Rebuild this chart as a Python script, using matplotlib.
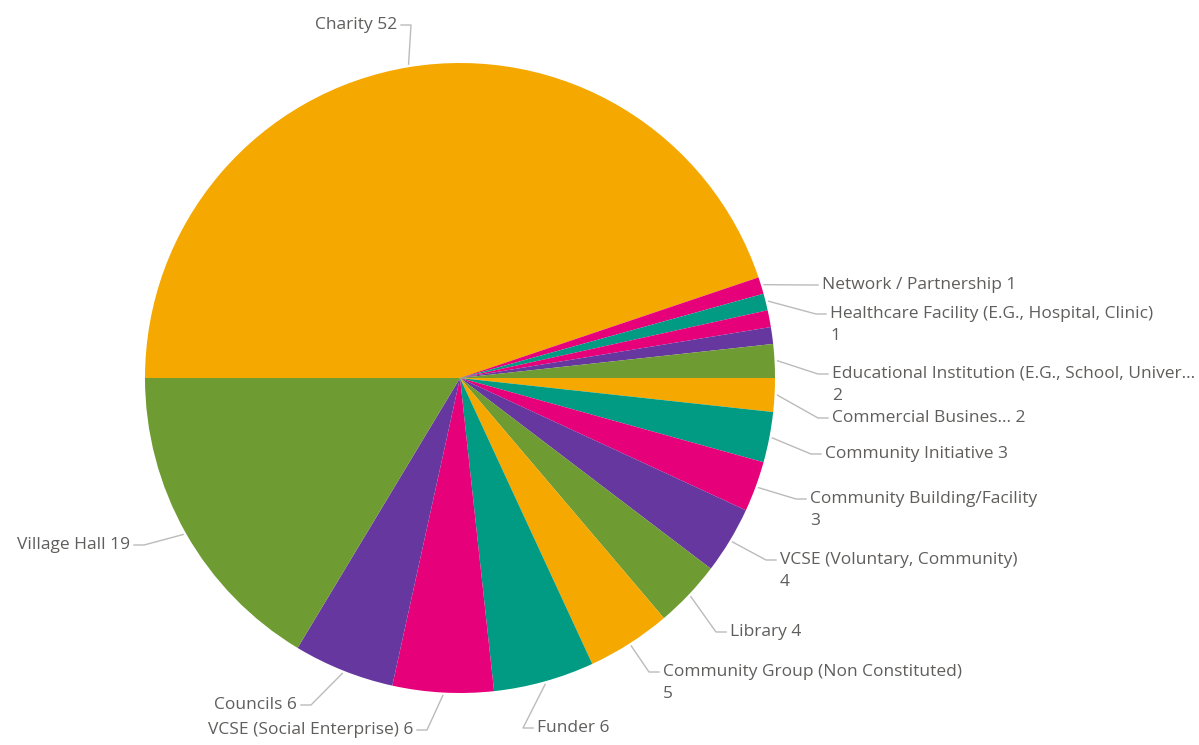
"""Pie chart of organisation types"""

import numpy as np
import matplotlib.pyplot as plt

# Organisation types, in the order they are drawn (clockwise from 9 o'clock)
categories = [
    'Charity', 'Network / Partnership', 'Healthcare Facility (E.G., Hospital, Clinic)',
    None, None,
    'Educational Institution (E.G., School, Univer...', 'Commercial Busines...',
    'Community Initiative', 'Community Building/Facility', 'VCSE (Voluntary, Community)',
    'Library', 'Community Group (Non Constituted)', 'Funder',
    'VCSE (Social Enterprise)', 'Councils', 'Village Hall',
]
counts = [52, 1, 1, 1, 1, 2, 2, 3, 3, 4, 4, 5, 6, 6, 6, 19]

ORANGE = '#F5A800'
GREEN = '#6E9B32'
PURPLE = '#65379F'
PINK = '#E6007A'
TEAL = '#009B82'
colors = [ORANGE, PINK, TEAL, PINK, PURPLE, GREEN, ORANGE, TEAL, PINK,
          PURPLE, GREEN, ORANGE, TEAL, PINK, PURPLE, GREEN]

# label placement in pixels: (x, y, alignment, value on a second line)
label_pos = [
    (397, 25, 'right', False),
    (822, 285, 'left', False),
    (830, 314, 'left', True),
    None, None,
    (832, 374, 'left', True),
    (832, 418, 'left', False),
    (825, 454, 'left', False),
    (810, 499, 'left', True),
    (780, 560, 'left', True),
    (730, 632, 'left', False),
    (663, 672, 'left', True),
    (537, 728, 'left', False),
    (413, 730, 'right', False),
    (297, 705, 'right', False),
    (130, 545, 'right', False),
]

W, H = 1199, 745
fig = plt.figure(figsize=(W / 100, H / 100), dpi=100)
ax = fig.add_axes([0, 0, 1, 1])

cx, cy, R = 460, 378, 315
# y axis is flipped, so counterclock=True turns clockwise on screen
wedges, _ = ax.pie(counts, colors=colors, startangle=180, counterclock=True,
                   center=(cx, cy), radius=R, wedgeprops={'linewidth': 0},
                   frame=True)
ax.set_xlim(0, W)
ax.set_ylim(H, 0)
ax.set_aspect('equal')
ax.axis('off')

text_color = '#605E5C'
line_color = '#BDBBB9'
font = dict(fontsize=12.5, color=text_color, family='Open Sans', va='center')
for w, name, val, pos in zip(wedges, categories, counts, label_pos):
    if pos is None:
        continue
    tx, ty, ha, wrap = pos
    mid = np.deg2rad((w.theta1 + w.theta2) / 2)
    ex, ey = cx + (R + 3) * np.cos(mid), cy + (R + 3) * np.sin(mid)
    sign = 1 if ha == 'left' else -1
    ax.plot([ex, tx - 14 * sign, tx - 4 * sign], [ey, ty, ty],
            color=line_color, lw=1)
    if wrap:
        ax.text(tx, ty, name, ha=ha, **font)
        ax.text(tx, ty + 22, str(val), ha=ha, **font)
    else:
        ax.text(tx, ty, f'{name} {val}', ha=ha, **font)

plt.savefig('out.png', dpi=100)
